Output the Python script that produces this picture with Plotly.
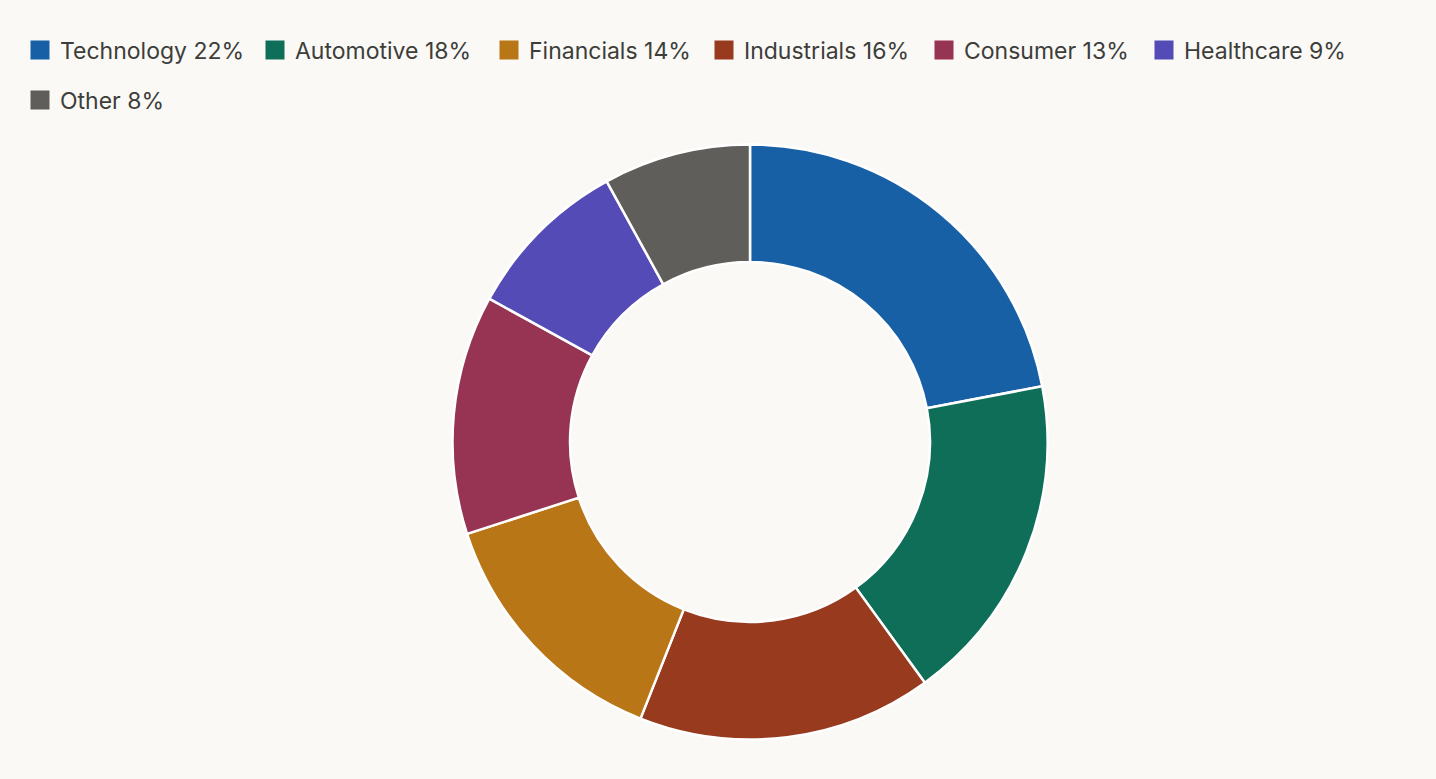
import plotly.graph_objects as go

# Data
legend_labels = ["Technology", "Automotive", "Financials", "Industrials", "Consumer", "Healthcare", "Other"]
legend_values = [22, 18, 14, 16, 13, 9, 8]
slice_order = ["Technology", "Automotive", "Industrials", "Financials", "Consumer", "Healthcare", "Other"]
colors = {
    "Technology": "#1860a6",
    "Automotive": "#0f6e58",
    "Financials": "#b97617",
    "Industrials": "#983a1d",
    "Consumer": "#973454",
    "Healthcare": "#544bb6",
    "Other": "#5f5e5a",
}
value_map = dict(zip(legend_labels, legend_values))
slice_values = [value_map[k] for k in slice_order]

BG = "#faf9f6"
TXT = "#3d3d3a"
FONT = "Inter"

W, H = 1436, 779
cx, cy, R = 750, 442, 297.5

# legend item placement (pixels from left / top)
legend_x_px = [20, 255, 489, 704, 924, 1144, 20]
legend_y_px = [50, 50, 50, 50, 50, 50, 100]

fig = go.Figure()
fig.add_trace(go.Pie(
    labels=slice_order,
    values=slice_values,
    sort=False,
    direction="clockwise",
    rotation=0,
    hole=0.605,
    marker=dict(colors=[colors[k] for k in slice_order], line=dict(color="white", width=2.5)),
    textinfo="none",
    hoverinfo="label+percent",
    showlegend=False,
    domain=dict(x=[(cx - R) / W, (cx + R) / W], y=[(H - cy - R) / H, (H - cy + R) / H]),
))

legends = {}
for i, (lab, val) in enumerate(zip(legend_labels, legend_values)):
    key = "legend" if i == 0 else f"legend{i + 1}"
    fig.add_trace(go.Scatter(
        x=[None], y=[None], mode="markers",
        marker=dict(symbol="square", size=16, color=colors[lab],
                    line=dict(color=colors[lab], width=3)),
        name=f"{lab} {val}%",
        legend=key,
        hoverinfo="skip",
    ))
    legends[key] = dict(
        x=legend_x_px[i] / W, y=1 - legend_y_px[i] / H,
        xanchor="left", yanchor="middle", orientation="h",
        font=dict(family=FONT, size=23, color=TXT),
        bgcolor="rgba(0,0,0,0)", itemclick=False, itemdoubleclick=False,
    )

fig.update_layout(
    width=W, height=H,
    paper_bgcolor=BG, plot_bgcolor=BG,
    margin=dict(l=0, r=0, t=0, b=0),
    xaxis=dict(visible=False), yaxis=dict(visible=False),
    font=dict(family=FONT, color=TXT),
    **legends,
)
fig.write_html(
    "out.html",
    config={"displayModeBar": False},
    post_script="document.body.style.margin='0';document.body.style.background='%s';" % BG,
)
